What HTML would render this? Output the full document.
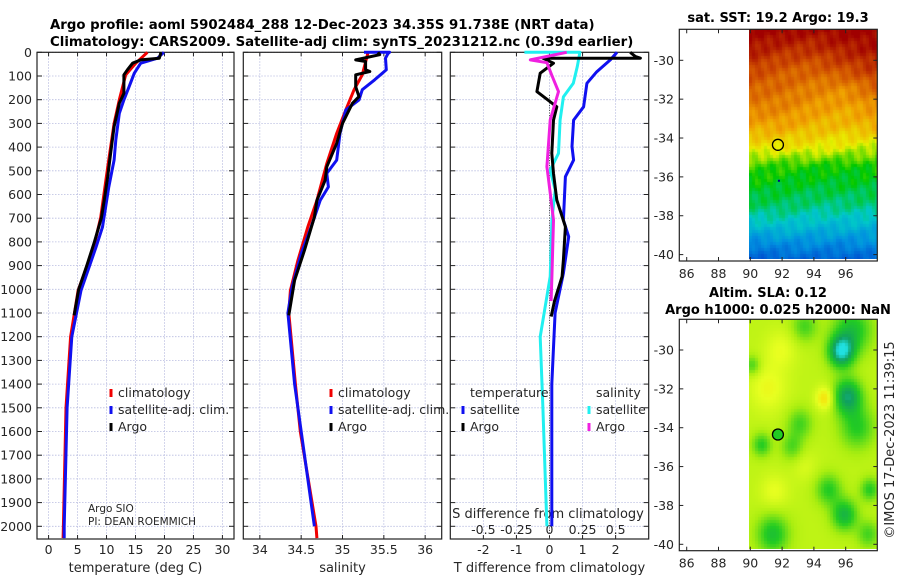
<!DOCTYPE html>
<html><head><meta charset="utf-8">
<style>
html,body{margin:0;padding:0;background:#fff;}
#wrap{position:relative;width:900px;height:580px;overflow:hidden;font-family:"DejaVu Sans","Liberation Sans",sans-serif;}
svg{position:absolute;left:0;top:0;}
canvas{position:absolute;}
</style></head>
<body>
<div id="wrap">
<canvas id="sstimg" width="128" height="230" style="left:749px;top:29px;width:128px;height:230px"></canvas>
<canvas id="slaimg" width="128" height="230" style="left:749px;top:319px;width:128px;height:230px"></canvas>
<svg id="fig" width="900" height="580"></svg>
</div>
<script>
// ---- data ----
const tDepth   = [0,25,46,88,145,201,258,370,455,568,737,821,1005,1200,1500,2000,2050];
const tSat     = [19.9,18.8,15.9,14.8,13.9,13.0,12.2,11.6,11.3,10.4,9.3,8.2,5.6,4.0,3.2,2.7,2.7];
const tClimDepth=[0,46,95,201,300,485,697,810,937,1005,1200,1500,2000,2050];
const tClim    = [17.05,15.05,13.3,12.2,11.3,10.2,9.0,7.9,6.1,5.1,3.8,3.0,2.55,2.5];
const argoTDepth=[0,25,32,46,74,95,173,215,314,427,525,625,700,800,900,1000,1110];
const argoT    = [19.4,19.1,15.9,14.5,13.6,13.0,13.0,12.2,11.3,10.7,10.2,9.6,9.1,7.9,6.6,5.2,4.4];

const sClimDepth=[0,95,158,243,342,469,625,737,878,1005,1100,1400,1600,2000,2050];
const sClim    = [35.31,35.24,35.14,35.04,34.93,34.81,34.69,34.58,34.46,34.37,34.35,34.43,34.49,34.68,34.69];
const sSatDepth=[0,0,5,25,74,116,158,201,243,342,455,511,568,625,737,850,990,1100,1400,2000];
const sSat     = [35.26,35.57,35.55,35.52,35.53,35.39,35.24,35.2,35.04,34.97,34.93,34.81,34.83,34.73,34.62,34.5,34.39,34.34,34.42,34.66];
const argoSDepth=[0,10,32,39,74,81,95,145,187,215,300,384,483,540,625,695,835,962,1005,1110];
const argoS    = [35.43,35.45,35.16,35.28,35.28,35.33,35.16,35.16,35.2,35.12,35.0,34.93,34.81,34.79,34.69,34.66,34.54,34.42,34.40,34.35];

const dTSatDepth=[0,32,82,131,230,286,398,455,525,708,778,932,1100,1400,2000];
const dTSat    = [2.04,1.84,1.43,1.13,1.03,0.73,0.68,0.73,0.48,0.42,0.58,0.42,0.17,0.07,0.07];
const dTArgoDepth=[0,18,25,25,46,88,166,230,286,426,511,623,736,876,946,1050,1115];
const dTArgo   = [2.44,2.6,2.75,-0.2,0.12,-0.28,-0.38,0.22,0.12,0.07,0.12,0.22,0.48,0.42,0.38,0.15,0.05];
const dSSatDepth=[0,0,60,131,188,286,426,497,581,708,946,1200,1500,2000];
const dSSat    = [-0.19,0.23,0.21,0.18,0.105,0.08,0.068,0.005,0.043,0.018,0.005,-0.07,-0.05,-0.02];
const dSArgoDepth=[0,32,44,100,166,286,483,525,708,946,1050];
const dSArgo   = [0.13,-0.145,-0.02,0.02,0.068,0.005,-0.02,-0.01,0.03,0.018,0.012];

const depthTicks=[0,100,200,300,400,500,600,700,800,900,1000,1100,1200,1300,1400,1500,1600,1700,1800,1900,2000];
const tTicks=[0,5,10,15,20,25,30];
const sTicks=[34,34.5,35,35.5,36];
const sTickLabels=["34","34.5","35","35.5","36"];
const dTicks=[-2,-1,0,1,2];
const dsTickLabels=["-0.5","-0.25","0","0.25","0.5"];
const dsTicks=[-0.5,-0.25,0,0.25,0.5];
const latTicks=[-30,-32,-34,-36,-38,-40];
const lonTicks=[86,88,90,92,94,96];

const sstLats=[-28.5,-29.5,-30.5,-31.5,-32.5,-33.5,-34.5,-35.5,-36.5,-37.5,-38.5,-39.5,-40.5];
const sstLons=[90,92,94,96,98];
const sstGrid=[
[1.0,1.0,.98,1.0,1.0],[.96,.93,.92,.95,.97],[.90,.86,.85,.88,.92],[.84,.83,.80,.78,.84],
[.80,.79,.76,.74,.77],[.73,.74,.71,.70,.72],[.65,.64,.64,.62,.60],[.53,.52,.51,.50,.51],
[.49,.48,.47,.47,.47],[.44,.44,.42,.42,.42],[.35,.36,.34,.34,.33],[.22,.24,.24,.23,.24],[.13,.14,.15,.13,.15]];
const slaBlobLon=[95.8,96.2,96.5,90.8,93.2,96.8,92.7,95.0,96.0,97.6,91.5,93.5,90.2,91.2,94.8,92.0,91.6,93.5,97.5];
const slaBlobLat=[-30.1,-32.4,-29.0,-34.9,-33.8,-34.0,-35.0,-37.2,-38.5,-37.2,-39.5,-28.8,-30.8,-32.0,-32.5,-30.0,-37.3,-36.0,-39.5];
const slaBlobAmp=[-0.55,-0.45,-0.3,-0.25,-0.2,-0.25,-0.18,-0.25,-0.35,-0.25,-0.3,-0.2,-0.2,0.12,0.22,0.1,0.1,0.06,-0.2];
const slaBlobRad=[0.8,0.9,1.2,0.6,0.8,1.1,0.7,0.8,0.8,0.6,1.0,0.8,0.5,1.2,0.6,1.0,0.9,0.8,0.7];
const argoLon=91.738, argoLat=-34.35;

// ---- helpers ----
const svg=document.getElementById('fig');
const NS='http://www.w3.org/2000/svg';
function mk(tag,attrs,parent){const e=document.createElementNS(NS,tag);for(const k in attrs)e.setAttribute(k,attrs[k]);(parent||svg).appendChild(e);return e;}
function txt(x,y,s,size,anchor,extra){const e=mk('text',Object.assign({x:x,y:y,'font-size':size,'text-anchor':anchor||'start',fill:'#262626'},extra||{}));e.textContent=s;return e;}
const Y0=52.3,YK=0.2370,YB=539;
function yD(d){return Y0+d*YK;}
const P=[{x0:37,x1:234,lo:-2,hi:32},{x0:243.3,x1:441.7,lo:33.8,hi:36.2},{x0:450.3,x1:648.7,lo:-3,hi:3}];
function xP(p,v){return p.x0+(v-p.lo)/(p.hi-p.lo)*(p.x1-p.x0);}

// ---- panels ----
P.forEach((p,i)=>{
  const g=mk('g',{});
  
  
  const ticks=i==0?tTicks:(i==1?sTicks:dTicks);
  ticks.forEach(t=>{const x=xP(p,t);const l=mk('line',{x1:x,x2:x,y1:Y0,y2:YB,stroke:'#b8bce0','stroke-width':0.8,'stroke-dasharray':'1.5,1.5'},g);
    mk('line',{x1:x,x2:x,y1:YB,y2:YB-4,stroke:'#222'},g);mk('line',{x1:x,x2:x,y1:Y0,y2:Y0+4,stroke:'#222'},g);});
  depthTicks.forEach(d=>{const y=yD(d);const l=mk('line',{x1:p.x0,x2:p.x1,y1:y,y2:y,stroke:'#b8bce0','stroke-width':0.8,'stroke-dasharray':'1.5,1.5'},g);
    mk('line',{x1:p.x0,x2:p.x0+5,y1:y,y2:y,stroke:'#222'},g);mk('line',{x1:p.x1,x2:p.x1-5,y1:y,y2:y,stroke:'#222'},g);});
  const r=mk('rect',{x:p.x0,y:Y0,width:p.x1-p.x0,height:YB-Y0,fill:'none',stroke:'#222','stroke-width':1.2},g);
  
});
depthTicks.forEach(d=>{const t=txt(32,yD(d)+4.5,String(d),12.5,'end');});
tTicks.forEach(v=>{const t=txt(xP(P[0],v),554,String(v),12.5,'middle');});
sTicks.forEach((v,k)=>{const t=txt(xP(P[1],v),554,sTickLabels[k],12.5,'middle');});
dTicks.forEach(v=>{const t=txt(xP(P[2],v),554,String(v),12.5,'middle');});
dsTicks.forEach((v,k)=>{const t=txt(xP(P[2],v*4),534,dsTickLabels[k],12.5,'middle');});
let e;
e=txt(135.5,572,'temperature (deg C)',13,'middle');
e=txt(342.5,572,'salinity',13,'middle');
e=txt(549.5,572,'T difference from climatology',13,'middle');
e=txt(548,518,'S difference from climatology',13,'middle');

// zero line in diff panel
e=mk('line',{x1:xP(P[2],0),x2:xP(P[2],0),y1:yD(180),y2:YB,stroke:'#555','stroke-width':1,'stroke-dasharray':'1,1.5'});


function series(p,vals,deps,color,name,scale){
  const s=scale||1;
  const pts=vals.map((v,k)=>xP(p,v*s).toFixed(1)+','+yD(deps[k]).toFixed(1)).join(' ');
  const l=mk('polyline',{points:pts,fill:'none',stroke:color,'stroke-width':3,'stroke-linejoin':'round'});
  
  
}
series(P[0],tClim,tClimDepth,'#f00000','temp-climatology-line');
series(P[0],tSat,tDepth,'#1010f0','temp-satellite-line');
series(P[0],argoT,argoTDepth,'#000','temp-argo-line');
series(P[1],sClim,sClimDepth,'#f00000','sal-climatology-line');
series(P[1],sSat,sSatDepth,'#1010f0','sal-satellite-line');
series(P[1],argoS,argoSDepth,'#000','sal-argo-line');
series(P[2],dSSat,dSSatDepth,'#20f0f0','sdiff-satellite-line',4);
series(P[2],dTSat,dTSatDepth,'#1010f0','tdiff-satellite-line');
series(P[2],dTArgo,dTArgoDepth,'#000','tdiff-argo-line');
series(P[2],dSArgo,dSArgoDepth,'#f020e0','sdiff-argo-line',4);

// legends
function leg(x,y,color,label,name){
  const g=mk('g',{});
  mk('line',{x1:x,x2:x,y1:y-8,y2:y,stroke:color,'stroke-width':3},g);
  const t=txt(x+7,y,label,12.5,'start');g.appendChild(t);
}
leg(111,397,'#f00000','climatology','legend-entry-climatology');
leg(111,414,'#1010f0','satellite-adj. clim.','legend-entry-satellite');
leg(111,431,'#000','Argo','legend-entry-argo');
leg(331,397,'#f00000','climatology','legend-entry-climatology-sal');
leg(331,414,'#1010f0','satellite-adj. clim.','legend-entry-satellite-sal');
leg(331,431,'#000','Argo','legend-entry-argo-sal');
e=txt(470,397,'temperature',12.5);
e=txt(596,397,'salinity',12.5);
leg(463,414,'#1010f0','satellite','legend-entry-tdiff-satellite');
leg(463,431,'#000','Argo','legend-entry-tdiff-argo');
leg(589,414,'#20f0f0','satellite','legend-entry-sdiff-satellite');
leg(589,431,'#f020e0','Argo','legend-entry-sdiff-argo');
e=txt(88,512,'Argo SIO',10.5);
e=txt(88,525,'PI: DEAN ROEMMICH',10.5);

// titles
e=txt(50,29,'Argo profile: aoml 5902484_288 12-Dec-2023 34.35S 91.738E (NRT data)',13.3,'start',{'font-weight':'bold',fill:'#000'});

e=txt(50,46,'Climatology: CARS2009. Satellite-adj clim: synTS_20231212.nc (0.39d earlier)',13.3,'start',{'font-weight':'bold',fill:'#000'});


// ---- maps ----
const MX0=679.3,MX1=877.3,LONK=15.9;
function xLon(l){return 686.7+(l-86)*LONK;}
const maps=[{top:29.3,bot:261,lat30:60.3,name:'sst-map'},{top:319.3,bot:550.7,lat30:350,name:'sla-map'}];
function yLat(m,l){return m.lat30+(-30-l)*19.43;}
maps.forEach((m,i)=>{
  const g=mk('g',{});
  mk('rect',{x:MX0,y:m.top,width:MX1-MX0,height:m.bot-m.top,fill:'none',stroke:'#222','stroke-width':1.2},g);
  latTicks.forEach(l=>{const y=yLat(m,l);mk('line',{x1:MX0,x2:MX0+4,y1:y,y2:y,stroke:'#222'},g);mk('line',{x1:MX1,x2:MX1-4,y1:y,y2:y,stroke:'#222'},g);
    const t=txt(674,y+4.5,String(l),12.5,'end');});
  lonTicks.forEach(l=>{const x=xLon(l);mk('line',{x1:x,x2:x,y1:m.bot,y2:m.bot-4,stroke:'#222'},g);mk('line',{x1:x,x2:x,y1:m.top,y2:m.top+4,stroke:'#222'},g);
    const t=txt(x,m.bot+17,String(l),12.5,'middle');});
});
e=txt(778,22,'sat. SST: 19.2 Argo: 19.3',13,'middle',{'font-weight':'bold',fill:'#000'});
e=txt(768,297,'Altim. SLA: 0.12',13,'middle',{'font-weight':'bold',fill:'#000'});
e=txt(778,314,'Argo h1000: 0.025 h2000: NaN',13,'middle',{'font-weight':'bold',fill:'#000'});
e=txt(0,0,'©IMOS 17-Dec-2023 11:39:15',13,'middle',{transform:'translate(894,440) rotate(-90)'});
// argo markers
e=mk('circle',{cx:xLon(argoLon),cy:yLat(maps[0],argoLat),r:5.5,fill:'none',stroke:'#000','stroke-width':1.3});
e=mk('rect',{x:xLon(91.8)-1,y:yLat(maps[0],-36.2)-1,width:2,height:2,fill:'#00008b'});
e=mk('circle',{cx:xLon(argoLon),cy:yLat(maps[1],argoLat),r:5.5,fill:'#22cc22',stroke:'#000','stroke-width':1.3});

const sstStops=[[0,[0,32,160]],[0.125,[0,80,208]],[0.25,[0,144,224]],[0.375,[0,200,200]],[0.5,[0,200,0]],[0.625,[232,240,0]],[0.75,[240,160,0]],[0.875,[208,80,0]],[1,[160,0,0]]];
function ramp(stops,v){v=Math.max(0,Math.min(1,v));for(let k=1;k<stops.length;k++){if(v<=stops[k][0]){const a=stops[k-1],b=stops[k],t=(v-a[0])/(b[0]-a[0]);return a[1].map((x,q)=>Math.round(x+(b[1][q]-x)*t));}}return stops[stops.length-1][1];}
function interpGrid(lon,lat){
  let fi=(-28.5-lat);fi=Math.max(0,Math.min(sstLats.length-1.001,fi));
  let fj=(lon-90)/2;fj=Math.max(0,Math.min(sstLons.length-1.001,fj));
  const i=Math.floor(fi),j=Math.floor(fj),a=fi-i,b=fj-j;
  return sstGrid[i][j]*(1-a)*(1-b)+sstGrid[i+1][j]*a*(1-b)+sstGrid[i][j+1]*(1-a)*b+sstGrid[i+1][j+1]*a*b;
}
function tex(lon,lat){return 0.02*Math.sin(lon*7.3+lat*3.1)+0.015*Math.sin(lon*2.1-lat*5.7);}
const slaStops=[[0,[32,224,224]],[0.15,[16,160,96]],[0.35,[34,204,34]],[0.55,[170,238,16]],[0.7,[232,255,32]],[0.85,[255,208,0]],[1,[255,150,0]]];
function drawMap(id,m,fn,cell){
  const cv=document.getElementById(id),ctx=cv.getContext('2d');
  for(let py=0;py<230;py+=cell)for(let px=0;px<128;px+=cell){
    const lon=90+(px+cell/2)/LONK, lat=-30-((m.top+py+cell/2)-m.lat30)/19.43;
    const c=fn(lon,lat);ctx.fillStyle='rgb('+c.join(',')+')';ctx.fillRect(px,py,cell,cell);
  }
}
drawMap('sstimg',maps[0],(lo,la)=>ramp(sstStops,interpGrid(lo,la)+tex(lo,la)),3);
drawMap('slaimg',maps[1],(lo,la)=>{let v=0.6;for(let k=0;k<slaBlobLon.length;k++){const d2=((lo-slaBlobLon[k])**2+(la-slaBlobLat[k])**2)/(slaBlobRad[k]**2);v+=slaBlobAmp[k]*Math.exp(-d2);}return ramp(slaStops,v);},3);
</script>
</body></html>
